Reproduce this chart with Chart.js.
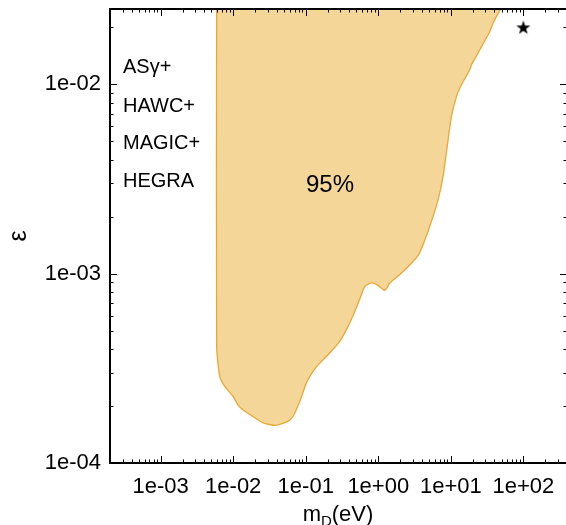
<!DOCTYPE html>
<html>
<head>
<meta charset="utf-8">
<script src="https://cdn.jsdelivr.net/npm/chart.js@4"></script>
<style>
  html, body { margin: 0; padding: 0; background: #fff; overflow: hidden; }
  #wrap { width: 566px; height: 525px; overflow: hidden; }
</style>
</head>
<body>
<div id="wrap"><canvas id="chart" width="578" height="525"></canvas></div>
<script>
// 95% region boundary (m_D in eV, epsilon)
const massEdge = [5.91e-3, 5.91e-3, 6.52e-3, 7.64e-3, 9.93e-3, 1.16e-2, 1.36e-2, 1.87e-2, 2.58e-2, 3.86e-2,
  5.70e-2, 6.68e-2, 8.26e-2, 0.102, 0.126, 0.156, 0.214, 0.294, 0.383, 0.474,
  0.586, 0.651, 0.805, 0.994, 1.23, 1.44, 1.98, 3.02, 3.73, 5.13,
  6.68, 7.83, 9.18, 10.2, 12.0, 13.3, 18.3, 19.3, 25.1, 34.5, 38.3, 48.5];
const epsEdge = [0.025, 4.13e-4, 2.87e-4, 2.54e-4, 2.25e-4, 2.03e-4, 1.91e-4, 1.76e-4, 1.63e-4, 1.58e-4,
  1.66e-4, 1.76e-4, 2.11e-4, 2.65e-4, 3.05e-4, 3.37e-4, 3.81e-4, 4.39e-4, 5.27e-4, 6.32e-4,
  7.74e-4, 8.57e-4, 8.93e-4, 8.67e-4, 8.16e-4, 8.93e-4, 9.89e-4, 1.16e-3, 1.29e-3, 1.78e-3,
  2.46e-3, 3.27e-3, 5.11e-3, 6.78e-3, 8.64e-3, 9.57e-3, 1.20e-2, 1.27e-2, 1.52e-2, 1.90e-2, 2.11e-2, 0.025];

const starMass = [100];
const starEps = [0.02];

const xMin = 2e-4, xMax = 4e2;
const yMin = 1e-4, yMax = 2.5e-2;

const expNames = ['ASγ+', 'HAWC+', 'MAGIC+', 'HEGRA'];
const expNameEps = [1.23e-2, 7.6e-3, 4.9e-3, 3.08e-3];

const FONT = "'Liberation Sans', Arial, sans-serif";

function fmtExp(v) {
  const e = Math.round(Math.log10(v));
  return '1e' + (e < 0 ? '-' : '+') + String(Math.abs(e)).padStart(2, '0');
}
function isDecade(v) {
  const l = Math.log10(v);
  return Math.abs(l - Math.round(l)) < 1e-9;
}

// filled star used as the point marker
const starImg = document.createElement('canvas');
starImg.width = 16; starImg.height = 16;
(function () {
  const c = starImg.getContext('2d');
  c.beginPath();
  for (let i = 0; i < 10; i++) {
    const r = i % 2 ? 2.9 : 7.4;
    const a = -Math.PI / 2 + i * Math.PI / 5;
    const px = 8 + r * Math.cos(a), py = 8.6 + r * Math.sin(a);
    i ? c.lineTo(px, py) : c.moveTo(px, py);
  }
  c.closePath();
  c.fillStyle = '#000';
  c.fill();
})();

const frameAndText = {
  id: 'frameAndText',
  afterDraw(chart) {
    const ctx = chart.ctx;
    const a = chart.chartArea;
    const xs = chart.scales.x, ys = chart.scales.y;
    ctx.save();
    // inner ticks on all four sides
    ctx.strokeStyle = '#000';
    ctx.lineWidth = 1;
    ctx.beginPath();
    for (let e = -4; e <= 2; e++) {
      for (let k = 1; k <= 9; k++) {
        const v = k * Math.pow(10, e);
        if (v < xMin || v > xMax) continue;
        const px = Math.round(xs.getPixelForValue(v)) + 0.5;
        const len = k === 1 ? 7 : 3.5;
        ctx.moveTo(px, a.bottom); ctx.lineTo(px, a.bottom - len);
        ctx.moveTo(px, a.top); ctx.lineTo(px, a.top + len);
      }
    }
    for (let e = -4; e <= -2; e++) {
      for (let k = 1; k <= 9; k++) {
        const v = k * Math.pow(10, e);
        if (v < yMin || v > yMax) continue;
        const py = Math.round(ys.getPixelForValue(v)) + 0.5;
        const len = k === 1 ? 7 : 3.5;
        ctx.moveTo(a.left, py); ctx.lineTo(a.left + len, py);
        ctx.moveTo(a.right, py); ctx.lineTo(a.right - len, py);
      }
    }
    ctx.stroke();
    ctx.lineWidth = 2;
    ctx.strokeRect(a.left, a.top, a.right - a.left, a.bottom - a.top);

    // experiment names and the 95% label
    ctx.fillStyle = '#000';
    ctx.textBaseline = 'middle';
    ctx.textAlign = 'left';
    ctx.font = '20px ' + FONT;
    expNames.forEach((t, i) => {
      ctx.fillText(t, a.left + 13, ys.getPixelForValue(expNameEps[i]));
    });
    ctx.textAlign = 'center';
    ctx.font = '24px ' + FONT;
    ctx.fillText('95%', xs.getPixelForValue(0.216), ys.getPixelForValue(2.94e-3));

    // x axis title with subscript
    const cx = 338, by = 521;
    ctx.textAlign = 'left';
    ctx.textBaseline = 'alphabetic';
    ctx.font = '22px ' + FONT;
    const wm = ctx.measureText('m').width;
    ctx.font = '15px ' + FONT;
    const wd = ctx.measureText('D').width;
    ctx.font = '22px ' + FONT;
    const wr = ctx.measureText('(eV)').width;
    let x0 = cx - (wm + wd + wr) / 2;
    ctx.fillText('m', x0, by);
    ctx.font = '15px ' + FONT;
    ctx.fillText('D', x0 + wm, by + 5);
    ctx.font = '22px ' + FONT;
    ctx.fillText('(eV)', x0 + wm + wd, by);
    ctx.restore();
  }
};

new Chart(document.getElementById('chart'), {
  type: 'scatter',
  data: {
    datasets: [
      {
        label: '95%',
        data: massEdge.map((m, i) => ({ x: m, y: epsEdge[i] })),
        showLine: true,
        fill: 'end',
        backgroundColor: '#f4d699',
        borderColor: '#e9a832',
        borderWidth: 1.3,
        pointRadius: 0,
        tension: 0.2
      },
      {
        label: 'star',
        data: starMass.map((m, i) => ({ x: m, y: starEps[i] })),
        pointStyle: starImg,
        pointRadius: 8
      }
    ]
  },
  options: {
    responsive: false,
    animation: false,
    layout: { padding: { top: 9, right: 0, left: 0, bottom: 0 } },
    plugins: { legend: { display: false }, tooltip: { enabled: false } },
    scales: {
      x: {
        type: 'logarithmic',
        min: xMin, max: xMax,
        grid: { display: false, drawTicks: false },
        border: { display: false },
        ticks: {
          autoSkip: false, maxRotation: 0, padding: 11,
          color: '#000', font: { family: FONT, size: 22 },
          callback: v => isDecade(v) ? fmtExp(v) : ''
        },
        afterFit: s => { s.height = 62; }
      },
      y: {
        type: 'logarithmic',
        min: yMin, max: yMax,
        grid: { display: false, drawTicks: false },
        border: { display: false },
        ticks: {
          autoSkip: false, padding: 9,
          color: '#000', font: { family: FONT, size: 22 },
          callback: v => isDecade(v) ? fmtExp(v) : ''
        },
        title: { display: true, text: 'ε', color: '#000', font: { family: FONT, size: 25 }, padding: { top: 4 } },
        afterFit: s => { s.width = 110; s.paddingTop = 0; s.paddingBottom = 0; }
      }
    }
  },
  plugins: [frameAndText]
});
</script>
</body>
</html>
